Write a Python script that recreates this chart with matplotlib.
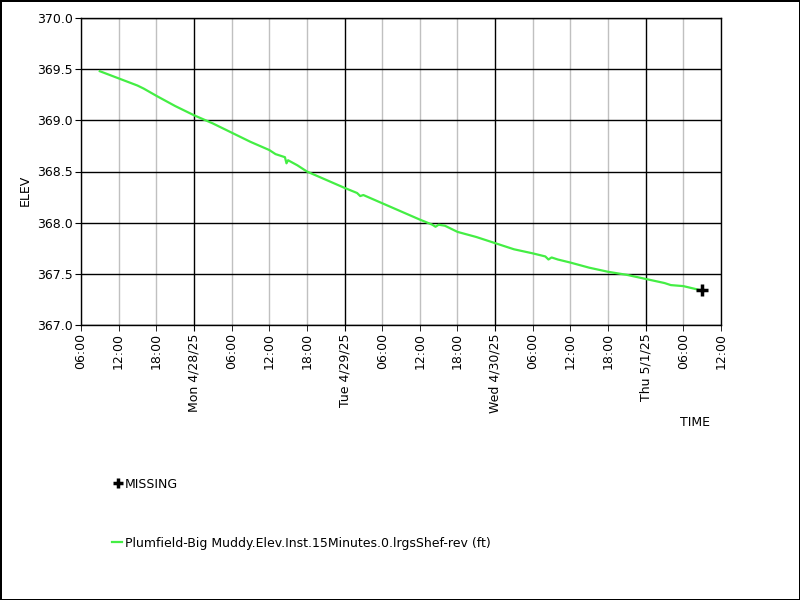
import matplotlib
matplotlib.use("Agg")
import matplotlib.pyplot as plt
import matplotlib.dates as mdates
from matplotlib.lines import Line2D
import pandas as pd

# datos
times = ["2025-04-27 09:00", "2025-04-27 12:00", "2025-04-27 15:00", "2025-04-27 16:00",
         "2025-04-27 18:00", "2025-04-27 21:00", "2025-04-28 00:00", "2025-04-28 03:00",
         "2025-04-28 06:00", "2025-04-28 09:00", "2025-04-28 12:00", "2025-04-28 13:00",
         "2025-04-28 14:30", "2025-04-28 14:45", "2025-04-28 15:00", "2025-04-28 16:30",
         "2025-04-28 18:00", "2025-04-28 21:00", "2025-04-29 00:00", "2025-04-29 02:00",
         "2025-04-29 02:30", "2025-04-29 03:00", "2025-04-29 06:00", "2025-04-29 09:00",
         "2025-04-29 12:00", "2025-04-29 14:00", "2025-04-29 14:30", "2025-04-29 15:00",
         "2025-04-29 16:00", "2025-04-29 18:00", "2025-04-29 21:00", "2025-04-30 00:00",
         "2025-04-30 03:00", "2025-04-30 06:00", "2025-04-30 08:00", "2025-04-30 08:30",
         "2025-04-30 09:00", "2025-04-30 10:00", "2025-04-30 12:00", "2025-04-30 15:00",
         "2025-04-30 18:00", "2025-04-30 21:00", "2025-05-01 00:00", "2025-05-01 03:00",
         "2025-05-01 04:00", "2025-05-01 06:00", "2025-05-01 08:45"]
elev = [369.48, 369.41, 369.34, 369.31,
        369.24, 369.14, 369.05, 368.97,
        368.88, 368.79, 368.71, 368.67,
        368.64, 368.58, 368.61, 368.56,
        368.50, 368.42, 368.34, 368.29,
        368.26, 368.27, 368.19, 368.11,
        368.03, 367.98, 367.96, 367.98,
        367.97, 367.91, 367.86, 367.80,
        367.74, 367.70, 367.67, 367.64,
        367.66, 367.64, 367.61, 367.56,
        367.52, 367.49, 367.45, 367.41,
        367.39, 367.38, 367.34]

missing_time = ["2025-05-01 09:00"]
missing_val = [367.34]

serie = "Plumfield-Big Muddy.Elev.Inst.15Minutes.0.lrgsShef-rev (ft)"
x_min = "2025-04-27 06:00"
x_max = "2025-05-01 12:00"

t = pd.to_datetime(times)
tm = pd.to_datetime(missing_time)

verde = "#44ee44"
fs = 9

fig = plt.figure(figsize=(8, 6), dpi=100)
fig.patch.set_edgecolor("black")
fig.patch.set_linewidth(2)
ax = fig.add_axes([81/800, 1-325/600, 640/800, 307/600])

ax.plot(t, elev, color=verde, lw=1.6, zorder=3)
ax.plot(tm, missing_val, marker="+", color="black", ms=8, mew=2.5, ls="none", zorder=4)

ax.set_xlim(pd.Timestamp(x_min), pd.Timestamp(x_max))
ax.set_ylim(367.0, 370.0)
ax.set_yticks([367.0, 367.5, 368.0, 368.5, 369.0, 369.5, 370.0])
ax.yaxis.set_major_formatter(plt.FuncFormatter(lambda v, p: "%.1f" % v))


def fmt_dia(v, p):
    d = mdates.num2date(v)
    return "%s %d/%d/%s" % (d.strftime("%a"), d.month, d.day, d.strftime("%y"))


ax.xaxis.set_major_locator(mdates.DayLocator())
ax.xaxis.set_major_formatter(plt.FuncFormatter(fmt_dia))
ax.xaxis.set_minor_locator(mdates.HourLocator(byhour=[6, 12, 18]))
ax.xaxis.set_minor_formatter(mdates.DateFormatter("%H:%M"))

ax.grid(True, which="major", color="black", lw=1)
ax.grid(True, which="minor", axis="x", color="#c0c0c0", lw=1)
ax.set_axisbelow(True)

ax.tick_params(axis="x", which="both", rotation=90, labelsize=fs, length=4, color="black", pad=2)
ax.tick_params(axis="y", labelsize=fs, length=4, pad=2)
for s in ax.spines.values():
    s.set_linewidth(1)

fig.text(25/800, 1-190/600, "ELEV", rotation=90, fontsize=fs, ha="center", va="center")
fig.text(695/800, 1-423/600, "TIME", fontsize=fs, ha="center", va="center")

h1 = Line2D([], [], marker="+", color="black", ms=7, mew=2.5, ls="none")
h2 = Line2D([], [], color=verde, lw=1.6)
fig.legend([h1], ["MISSING"], loc="center left", bbox_to_anchor=(108/800, 1-484/600),
           frameon=False, fontsize=fs, handlelength=0.6, handletextpad=0.2, borderpad=0)
fig.legend([h2], [serie], loc="center left", bbox_to_anchor=(106/800, 1-543/600),
           frameon=False, fontsize=fs, handlelength=0.8, handletextpad=0.2, borderpad=0)

fig.savefig("out.png", dpi=100)
